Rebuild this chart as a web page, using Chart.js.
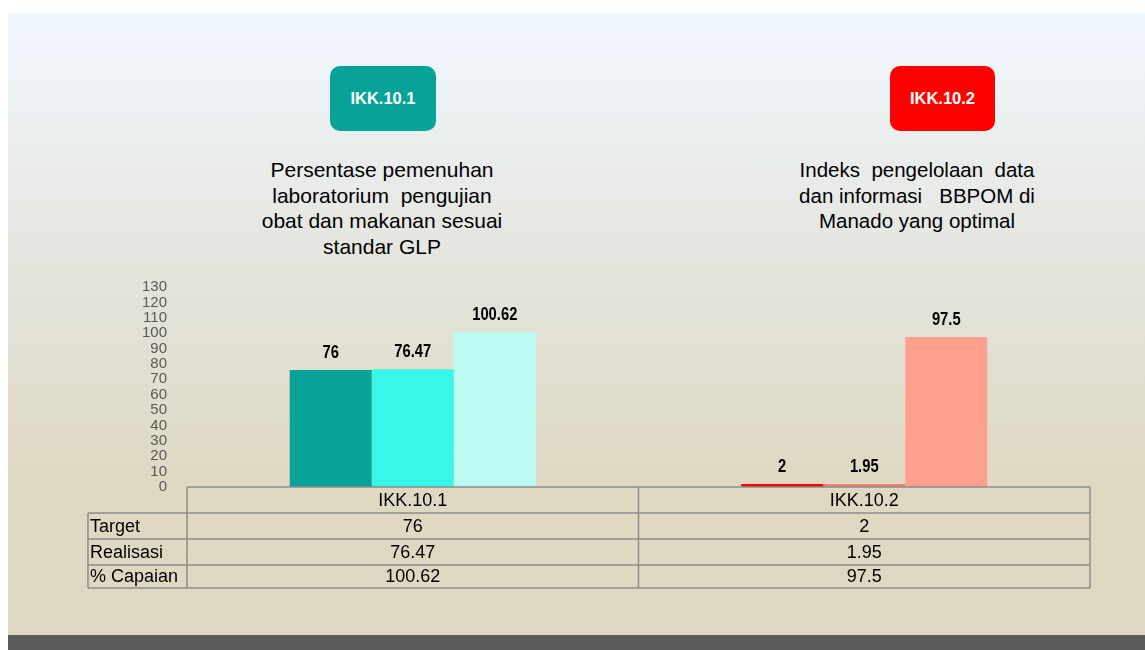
<!DOCTYPE html>
<html>
<head>
<meta charset="utf-8">
<script src="https://cdn.jsdelivr.net/npm/chart.js@4"></script>
<style>
  body { margin: 0; background: #fff; font-family: "Liberation Sans", Arial, sans-serif; }
  #slide {
    position: absolute; left: 8px; top: 13px; width: 1137px; height: 622px;
    background: linear-gradient(#f0f7fe 0%, #e3e3da 45%, #dfd9c3 75%, #ded8c2 100%);
  }
  #footer { position: absolute; left: 8px; top: 635px; width: 1137px; height: 15px; background: #5a5a5a; }
  .badge {
    position: absolute; top: 66px; height: 65px; border-radius: 10px;
    color: #fff; font-weight: bold; font-size: 16.5px; line-height: 65px; text-align: center;
  }
  .title {
    position: absolute; top: 157px; width: 340px; font-size: 21px; line-height: 25.5px;
    text-align: center; color: #000; white-space: pre;
  }
  canvas { position: absolute; left: 0; top: 0; }
</style>
</head>
<body>
<div id="slide"></div>
<div id="footer"></div>
<div class="badge" style="left:330px;width:106px;background:#08a398;">IKK.10.1</div>
<div class="badge" style="left:890px;width:105px;background:#ff0000;">IKK.10.2</div>
<div class="title" style="left:212px;">Persentase pemenuhan
laboratorium  pengujian
obat dan makanan sesuai
standar GLP</div>
<div class="title" style="left:747px;font-size:20.5px;">Indeks  pengelolaan  data
dan informasi   BBPOM di
Manado yang optimal</div>
<canvas id="chart" width="1145" height="650"></canvas>
<script>
const categories = ["IKK.10.1", "IKK.10.2"];
const seriesNames = ["Target", "Realisasi", "% Capaian"];
const target = [76, 2];
const realisasi = [76.47, 1.95];
const capaian = [100.62, 97.5];
const yTicks = [0, 10, 20, 30, 40, 50, 60, 70, 80, 90, 100, 110, 120, 130];

// per-bar colours: first entry for IKK.10.1, second for IKK.10.2
const colors = [
  ["#08a398", "#ff0000"],
  ["#38f7e6", "#f47f6b"],
  ["#bcfaf4", "#ffa08e"],
];

const barLabels = {
  id: "barLabels",
  afterDatasetsDraw(chart) {
    const ctx = chart.ctx;
    ctx.font = "bold 18px 'Liberation Sans', Arial";
    ctx.fillStyle = "#000";
    ctx.textAlign = "center";
    ctx.textBaseline = "bottom";
    chart.data.datasets.forEach((ds, i) => {
      chart.getDatasetMeta(i).data.forEach((bar, j) => {
        // squeeze text sideways to look like a narrow face
        ctx.save();
        ctx.translate(bar.x, bar.y - 8);
        ctx.scale(0.82, 1);
        ctx.fillText(String(ds.data[j]), 0, 0);
        ctx.restore();
      });
    });
  },
};

const dataTable = {
  id: "dataTable",
  afterDraw(chart) {
    const ctx = chart.ctx;
    const area = chart.chartArea;
    const x = chart.scales.x;
    const step = x.getPixelForValue(1) - x.getPixelForValue(0);
    const cols = [area.left];
    categories.forEach((c, i) => cols.push(x.getPixelForValue(i) + step / 2));
    const labelLeft = 88;
    const rows = [area.bottom, area.bottom + 26, area.bottom + 52, area.bottom + 78, area.bottom + 101];
    const rowsData = [target, realisasi, capaian];

    ctx.save();
    ctx.strokeStyle = "#8c8c8c";
    ctx.lineWidth = 1.5;
    ctx.beginPath();
    ctx.moveTo(area.left, rows[0]); ctx.lineTo(area.right, rows[0]);
    for (let r = 1; r < rows.length; r++) {
      ctx.moveTo(labelLeft, rows[r]); ctx.lineTo(area.right, rows[r]);
    }
    cols.forEach((cx) => { ctx.moveTo(cx, rows[0]); ctx.lineTo(cx, rows[4]); });
    ctx.moveTo(labelLeft, rows[1]); ctx.lineTo(labelLeft, rows[4]);
    ctx.stroke();

    ctx.fillStyle = "#000";
    ctx.font = "18px 'Liberation Sans', Arial";
    ctx.textBaseline = "middle";
    ctx.textAlign = "center";
    categories.forEach((c, i) => ctx.fillText(c, x.getPixelForValue(i), (rows[0] + rows[1]) / 2 + 1));
    rowsData.forEach((vals, r) => {
      const cy = (rows[r + 1] + rows[r + 2]) / 2 + 1;
      ctx.textAlign = "left";
      ctx.fillText(seriesNames[r], labelLeft + 2, cy);
      ctx.textAlign = "center";
      vals.forEach((v, i) => ctx.fillText(String(v), x.getPixelForValue(i), cy));
    });
    ctx.restore();
  },
};

new Chart(document.getElementById("chart"), {
  type: "bar",
  data: {
    labels: categories,
    datasets: [target, realisasi, capaian].map((d, i) => ({
      label: seriesNames[i],
      data: d,
      backgroundColor: colors[i],
      barPercentage: 1,
      categoryPercentage: 0.545,
    })),
  },
  options: {
    responsive: false,
    animation: false,
    layout: { padding: { left: 127, right: 55, top: 287, bottom: 163 } },
    plugins: { legend: { display: false }, tooltip: { enabled: false } },
    scales: {
      x: { display: false, offset: true },
      y: {
        min: 0,
        max: 130,
        afterFit(scale) { scale.width = 60; },
        afterBuildTicks(scale) { scale.ticks = yTicks.map((v) => ({ value: v })); },
        grid: { display: false },
        border: { display: false },
        ticks: {
          autoSkip: false,
          color: "#595959",
          font: { size: 15, family: "'Liberation Sans', Arial" },
          padding: 12,
        },
      },
    },
  },
  plugins: [barLabels, dataTable],
});
</script>
</body>
</html>
